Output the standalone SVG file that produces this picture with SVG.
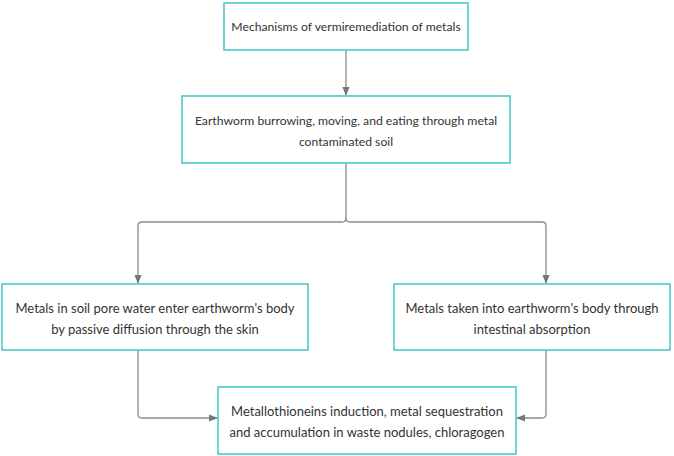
<svg xmlns="http://www.w3.org/2000/svg" width="674" height="456" viewBox="0 0 674 456">
<style>
.box{fill:#fff;stroke:#4cc9c9;stroke-width:1.6}
.t{font-family:Lato,"Liberation Sans",sans-serif;font-size:13px;fill:#333;text-anchor:middle}
.s{font-size:12.2px}
.c{fill:none;stroke:#8a8a8a;stroke-width:1.3}
</style>
<defs><marker id="a" viewBox="0 0 10 10" refX="9" refY="5" markerWidth="7" markerHeight="7" orient="auto-start-reverse"><path d="M0,1 L10,5 L0,9 z" fill="#777"/></marker></defs>
<rect width="674" height="456" fill="#fff"/>
<g id="connectors">
<path class="c" d="M346,50 V95" marker-end="url(#a)"/>
<path class="c" d="M346,163 V218 Q346,222 342,222 H142 Q138,222 138,226 V283" marker-end="url(#a)"/>
<path class="c" d="M346,218 Q346,222 350,222 H542 Q546,222 546,226 V283" marker-end="url(#a)"/>
<path class="c" d="M138,350 V414 Q138,418 142,418 H217" marker-end="url(#a)"/>
<path class="c" d="M546,350 V414 Q546,418 542,418 H517" marker-end="url(#a)"/>
</g>
<g id="n1"><rect class="box" x="224" y="3" width="244" height="47"/><text class="t s" x="346" y="31">Mechanisms of vermiremediation of metals</text></g>
<g id="n2"><rect class="box" x="182" y="96" width="328" height="67"/><text class="t s" x="346" y="125">Earthworm burrowing, moving, and eating through metal</text><text class="t s" x="346" y="146">contaminated soil</text></g>
<g id="n3"><rect class="box" x="2" y="284" width="306" height="66"/><text class="t" x="155" y="313">Metals in soil pore water enter earthworm's body</text><text class="t" x="155" y="334">by passive diffusion through the skin</text></g>
<g id="n4"><rect class="box" x="394" y="284" width="276" height="66"/><text class="t" x="532" y="313">Metals taken into earthworm's body through</text><text class="t" x="532" y="334">intestinal absorption</text></g>
<g id="n5"><rect class="box" x="218" y="387" width="298" height="67"/><text class="t" x="367" y="416">Metallothioneins induction, metal sequestration</text><text class="t" x="367" y="437">and accumulation in waste nodules, chloragogen</text></g>
</svg>
